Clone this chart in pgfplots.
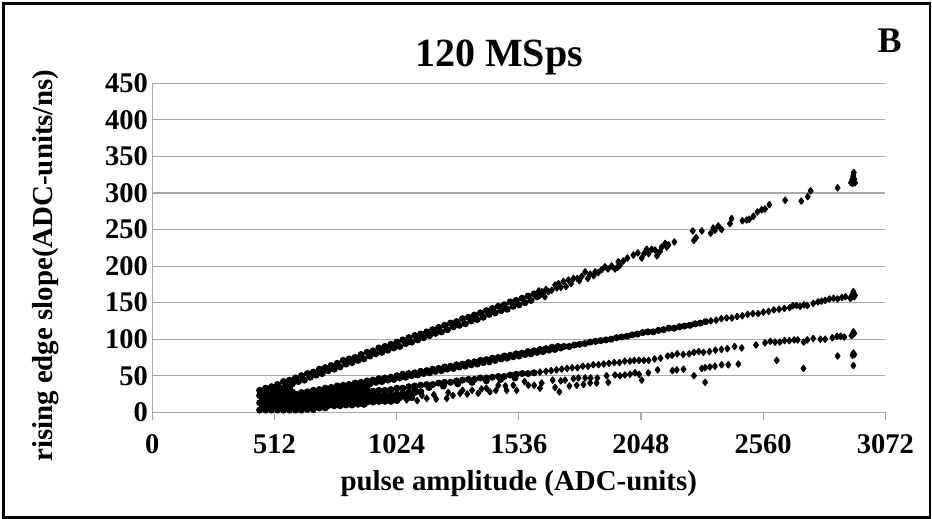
\documentclass[border=0pt]{standalone}
\usepackage{fontspec}
\setmainfont{Liberation Serif}
\usepackage{pgfplots}
\pgfplotsset{compat=1.18}
\definecolor{gl}{gray}{0.66}
\pgfplotsset{
 pts/.style={only marks,mark=diamond*,mark size=3pt,mark options={fill=black,draw=black,line width=1.4pt,line join=round}},
 ptsd/.style={only marks,mark=*,mark size=3pt,mark options={fill=black,draw=black,line width=1pt}}}
\begin{document}
\begin{tikzpicture}[x=1pt,y=1pt]
\useasboundingbox (-152.3,-106.7) rectangle (779.7,412.3);
\draw[black,line width=2.8pt] (-149,-105.2) rectangle (777.7,409);
\begin{axis}[
  at={(0,0)},anchor=origin,
  scale only axis,width=733pt,height=329pt,
  xmin=0,xmax=3072,ymin=0,ymax=450,
  xtick={0,512,1024,1536,2048,2560,3072},
  ytick={0,50,...,450},
  ymajorgrids,
  major grid style={gl,line width=1.1pt},
  axis x line=bottom,axis y line=left,
  axis line style={gl,line width=1.1pt,-},
  x axis line style={-},y axis line style={-},
  tick style={gl,line width=1.1pt},
  xtick align=outside,
  major tick length=8pt,
  ytick style={draw=none},
  /pgf/number format/assume math mode=true,
  /pgf/number format/1000 sep={},
  tick label style={font=\bfseries\fontsize{28.5}{29}\selectfont,text=black},
  xticklabel style={yshift=-11pt},
  yticklabel style={xshift=3pt},
  xlabel={pulse amplitude (ADC-units)},
  ylabel={rising edge slope(ADC-units/ns)},
  xlabel style={font=\bfseries\fontsize{28.9}{29}\selectfont,at={(axis description cs:0.5,-0.218)},anchor=center},
  ylabel style={font=\bfseries\fontsize{28.9}{29}\selectfont,at={(axis description cs:-0.146,0.445)},anchor=center,rotate=0},
  clip=false,
]
% top band
\addplot[ptsd] coordinates {
(450,30)(475,33)(500,35)(525,38)(550,42)(575,44)(600,47)(625,50)(650,53)(675,55)(700,59)(725,61)(750,64)(775,67)(800,71)(825,73)(850,75)(875,79)(900,82)(925,84)(950,88)(975,90)(1000,93)(1025,96)(1050,99)(1075,102)(1100,105)(1125,107)(1150,110)(1175,113)(1200,116)(1225,119)(1250,122)(1275,124)(1300,128)(1325,130)(1350,133)(1375,136)(1400,139)(1425,142)(1450,145)(1475,147)(1500,151)(1525,153)(1550,156)(1575,159)(1600,162)
(462,25)(487,28)(512,30)(537,33)(562,36)(587,39)(612,42)(637,44)(662,48)(687,51)(712,53)(737,57)(762,59)(787,62)(812,66)(837,68)(862,71)(887,73)(912,77)(937,80)(962,82)(987,85)(1012,88)(1037,90)(1062,94)(1087,96)(1112,99)(1137,102)(1162,105)(1187,108)(1212,110)(1237,113)(1262,117)(1287,119)(1312,121)(1337,125)(1362,127)(1387,130)(1412,134)(1437,136)(1462,139)(1487,141)(1512,145)(1537,147)(1562,150)(1587,153)(1612,158)
};
\addplot[pts] coordinates {
(2940,328)(2938,324)(2937,322)(2938,316)(2935,313)(2945,314)(2928,314)(2942,319)(2933,318)(2872,307)(2759,303)(2747,295)(2720,289)(2652,290)(2586,284)(2568,278)(2554,277)(2536,274)(2519,268)(2502,264)(2491,263)(2473,262)(2428,265)(2421,258)(2386,250)(2372,255)(2358,249)(2340,245)(2351,252)(2303,248)(2265,248)(2279,239)(2270,235)(2188,233)(2163,229)(2149,231)(2156,226)(2128,220)(2107,222)(2093,223)(2072,223)(2051,211)(2061,217)(2016,215)(1991,211)(1974,207)(1953,206)(1960,201)(1939,196)(1949,198)(1897,199)(1883,195)(1869,191)(1856,192)(1835,189)(1814,192)(1800,186)(1781,183)(1765,183)(1744,181)(1734,172)(1723,179)(1702,176)(1688,174)(1674,167)(1660,165)(1639,163)(1632,165)(1625,160)
(1850,187)(1825,183)(1790,180)(1755,176)(1712,171)(1695,170)(1650,168)(1645,158)(1620,166)(1910,196)(1925,200)(2115,214)(2135,226)(2080,217)(2035,218)
};
% second band
\addplot[ptsd] coordinates {
(600,25)(625,27)(650,28)(675,30)(700,31)(725,33)(750,34)(775,36)(800,37)(825,38)(850,40)(875,41)(900,43)(925,44)(950,46)(975,47)(1000,48)(1025,50)(1050,52)(1075,53)(1100,54)(1125,56)(1150,57)(1175,59)(1200,60)(1225,62)(1250,63)(1275,65)(1300,66)(1325,68)(1350,69)(1375,71)(1400,72)(1425,74)(1450,75)(1475,77)(1500,78)(1525,80)(1550,81)(1575,83)(1600,84)(1625,86)(1650,87)(1675,89)(1700,90)
(612,21)(637,23)(662,24)(687,25)(712,28)(737,29)(762,30)(787,32)(812,34)(837,35)(862,37)(887,38)(912,39)(937,41)(962,42)(987,44)(1012,45)(1037,47)(1062,48)(1087,50)(1112,51)(1137,53)(1162,54)(1187,56)(1212,57)(1237,59)(1262,60)(1287,62)(1312,63)(1337,65)(1362,66)(1387,68)(1412,69)(1437,71)(1462,73)(1487,74)(1512,76)(1537,77)(1562,79)(1587,80)(1612,82)(1637,83)(1662,85)(1687,86)(1712,88)
(1725,90)(1747,90)(1769,92)(1791,93)(1813,94)(1835,96)(1857,97)(1879,98)(1901,99)(1923,100)(1945,102)(1967,103)(1989,104)(2011,106)(2033,107)(2055,109)(2077,110)(2099,110)(2121,112)(2143,113)(2165,115)(2187,115)(2209,117)(2231,118)(2253,119)(2275,121)(2297,122)(2319,124)
};
\addplot[pts] coordinates {
(2341,125)(2363,126)(2385,128)(2407,129)(2429,129)(2451,131)(2473,132)(2495,134)(2517,135)(2539,135)(2561,137)(2583,138)(2605,140)(2627,141)(2649,142)(2671,143)(2685,146)(2700,146)(2715,145)(2731,147)(2745,146)(2770,149)(2790,151)(2805,152)(2820,153)(2838,155)(2855,156)(2872,155)(2890,157)(2905,158)(2925,156)(2931,160)(2938,162)(2942,158)(2938,165)(2945,160)(2930,157)
};
% third band
\addplot[ptsd] coordinates {
(1000,31)(1025,33)(1050,33)(1075,35)(1100,36)(1125,37)(1150,38)(1175,38)(1200,40)(1225,41)(1250,41)(1275,43)(1300,44)(1325,45)(1350,45)(1375,47)(1400,47)(1425,48)(1450,49)(1475,49)(1500,51)(1525,52)(1550,53)(1575,53)(1600,54)
(1100,31)(1160,34)(1220,36)(1280,39)(1340,41)(1400,43)(1460,45)(1520,47)
};
\addplot[pts] coordinates {
(1625,55)(1650,56)(1672,57)(1694,58)(1716,59)(1738,60)(1760,61)(1782,61)(1804,63)(1826,63)(1848,65)(1870,65)(1892,66)(1914,67)(1936,68)(1958,68)(1980,70)(2002,70)(2020,71)(2040,71)(2060,71)(2080,71)(2105,73)(2130,74)(2160,77)(2178,78)(2200,80)(2225,79)(2250,80)(2270,82)(2290,83)(2310,82)(2335,83)(2360,85)(2385,86)(2410,87)(2440,90)(2470,88)(2530,92)(2568,95)(2590,97)(2610,96)(2630,96)(2650,98)(2670,98)(2690,99)(2705,99)(2730,96)(2745,99)(2770,101)(2800,100)(2820,100)(2850,102)(2870,104)(2885,104)(2900,103)(2930,105)(2938,110)(2935,106)(2942,108)
};
% lower band and scattered points
\addplot[pts] coordinates {
(2938,64)(2938,81)(2934,78)(2942,79)(2872,77)(2617,71)(2729,60)(2456,66)(2414,65)(2386,65)(2358,63)(2337,62)(2317,61)(2303,60)(2317,41)(2270,50)(2226,59)(2198,58)(2180,57)(2118,58)(2079,54)(2051,44)(2040,52)(2023,54)(2002,52)(1981,51)(1960,50)(1939,51)(1911,41)(1904,50)(1865,47)(1862,40)(1837,47)(1835,40)(1814,47)(1807,38)(1786,47)(1779,37)(1748,36)(1765,46)(1730,44)(1712,43)(1678,44)(1688,34)(1706,28)(1632,40)(1625,33)
(1576,37)(1485,30)(1527,30)(1513,37)(1450,37)(1415,28)(1366,26)(1290,26)(1234,19)(1150,19)(1066,17)(1110,16)(1190,18)(1260,23)(1320,25)(1340,30)(1400,33)(1560,42)(1600,37)(1480,36)(1440,30)(1380,32)(1300,30)(1240,27)(1180,24)(1130,23)(1080,23)
};
\addplot[ptsd] coordinates {
(450,3)(475,3)(500,3)(525,3)(550,3)(575,3)(600,3)(625,3)(650,4)(675,4)(700,6)(725,6)
(462,8)(487,8)(512,8)(537,8)(562,8)(587,8)(612,8)(637,8)(662,8)(687,9)(712,9)(737,9)(762,9)(787,9)(812,10)(837,10)(862,11)(887,11)
(450,13)(475,13)(500,13)(525,13)(550,13)(575,13)(600,13)(625,13)(650,13)(675,13)(700,13)(725,13)(750,13)(775,13)(800,13)(825,13)(850,14)(875,14)(900,14)(925,14)(950,15)(975,15)(1000,15)(1025,16)
(462,18)(487,18)(512,18)(537,18)(562,18)(587,18)(612,18)(637,18)(662,18)(687,18)(712,18)(737,18)(762,18)(787,18)(812,18)(837,18)(862,18)(887,18)(912,18)(937,18)(962,18)(987,18)(1012,19)(1037,20)(1062,21)(1087,20)
(450,23)(475,23)(500,23)(525,23)(550,23)(575,23)(600,23)(625,23)(650,23)(675,23)(700,23)(725,23)(750,23)(775,23)(800,23)(825,23)(850,23)(875,23)(900,23)(925,23)(950,23)(975,24)(1000,24)(1025,25)(1050,26)(1075,27)(1100,27)(1125,28)
(462,28)(487,28)(512,28)(537,28)(562,28)(587,28)(700,28)(725,28)(750,28)(775,28)(800,28)(825,28)(850,28)(875,28)(900,29)(925,29)(950,30)(975,30)
(475,32)(500,33)(525,33)(550,33)(575,33)(800,33)(825,33)(850,33)(875,34)(900,35)
};
\node[font=\bfseries\fontsize{40}{40}\selectfont,anchor=center] at (axis description cs:0.473,1.078) {120 MSps};
\node[font=\bfseries\fontsize{36}{36}\selectfont,anchor=center] at (axis description cs:1.006,1.13) {B};
\end{axis}
\end{tikzpicture}
\end{document}
